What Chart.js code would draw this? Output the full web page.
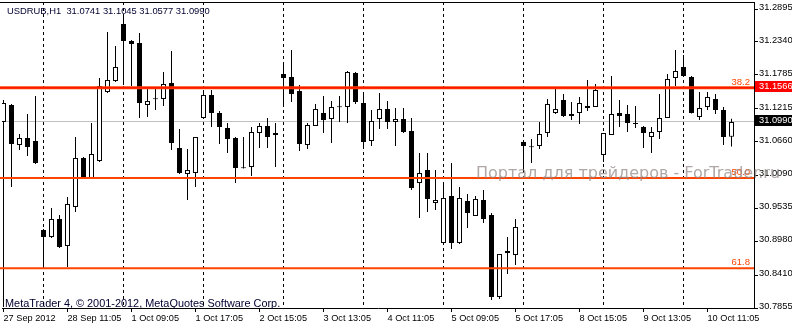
<!DOCTYPE html>
<html>
<head>
<meta charset="utf-8">
<title>USDRUB,H1</title>
<script src="https://cdn.jsdelivr.net/npm/chart.js@4.4.0/dist/chart.umd.min.js"></script>
<style>
  html, body { margin: 0; padding: 0; background: #fff; }
  canvas { display: block; }
</style>
</head>
<body>
<canvas id="chart" width="792" height="325"></canvas>
<script>
// USDRUB H1 candles (oldest first)
const symbol = 'USDRUB,H1';

const opens = [
  31.0991, 31.1277, 31.0603, 31.0721, 31.0670, 30.9170, 30.9052, 30.9356, 30.8900, 30.9558,
  31.0384, 31.0047, 31.0333, 31.1496, 31.1682, 31.2642, 31.2356, 31.2322, 31.1277, 31.1385,
  31.1378, 31.1648, 31.0552, 31.0114, 31.0131, 31.1058, 31.1446, 31.1142, 31.0889, 31.0721,
  31.0225, 31.0232, 31.0805, 31.0923, 31.0771, 31.1800, 31.1749, 31.1513, 31.0603, 31.0923,
  31.1142, 31.1041, 31.1248, 31.1243, 31.1817, 31.1311, 31.0670, 31.1041, 31.1210, 31.0991,
  31.1041, 31.0839, 30.9962, 31.0182, 30.9625, 30.8951, 30.9743, 30.8951, 30.9659, 30.9406,
  30.9676, 30.9423, 30.8041, 30.8782, 30.8749, 31.0653, 31.0573, 31.0586, 31.0805, 31.1142,
  31.1361, 31.1092, 31.1142, 31.1260, 31.1243, 31.0434, 31.0771, 31.1142, 31.1125, 31.0960,
  31.0906, 31.0738, 31.0822, 31.1058, 31.1732, 31.1918, 31.1749, 31.1075, 31.1243, 31.1378,
  31.1193, 31.0741
];
const highs = [
  31.1361, 31.1294, 31.0788, 31.1125, 31.1429, 30.9187, 30.9541, 30.9423, 30.9726, 31.0738,
  31.0401, 31.0974, 31.1732, 31.2508, 31.2272, 31.2760, 31.2373, 31.2491, 31.1547, 31.1547,
  31.1833, 31.2187, 31.0873, 31.0536, 31.0738, 31.1530, 31.1530, 31.1176, 31.0974, 31.0738,
  31.0738, 31.0906, 31.0974, 31.1058, 31.0974, 31.2002, 31.2204, 31.1614, 31.0974, 31.1294,
  31.1429, 31.1345, 31.1429, 31.1850, 31.1833, 31.1496, 31.1193, 31.1479, 31.1345, 31.1227,
  31.1227, 31.1058, 31.0468, 31.0468, 31.0182, 30.9962, 31.0300, 30.9895, 30.9777, 30.9743,
  30.9844, 30.9457, 30.8766, 30.9052, 30.9356, 31.0670, 31.0704, 31.0991, 31.1378, 31.1547,
  31.1463, 31.1328, 31.1412, 31.1699, 31.1631, 31.0805, 31.1766, 31.1361, 31.1277, 31.1260,
  31.0923, 31.0906, 31.1463, 31.1800, 31.2204, 31.2120, 31.1766, 31.1496, 31.1496, 31.1463,
  31.1243, 31.1045
];
const lows = [
  30.7872, 30.9895, 31.0519, 31.0418, 31.0283, 30.8546, 30.9035, 30.8867, 30.8546, 30.9474,
  31.0030, 31.0030, 31.0316, 31.1479, 31.1665, 31.1614, 31.1597, 31.1058, 31.1075, 31.1193,
  31.1260, 31.0519, 31.0114, 30.9676, 30.9895, 31.1058, 31.0906, 31.0620, 31.0468, 30.9962,
  31.0205, 31.0080, 31.0552, 31.0552, 31.0232, 31.1243, 31.1328, 31.0502, 31.0536, 31.0923,
  31.0805, 31.0637, 31.0991, 31.0974, 31.1294, 31.0569, 31.0586, 31.0873, 31.0873, 31.0586,
  31.0805, 30.9844, 30.9372, 30.9474, 30.9507, 30.8934, 30.8850, 30.8934, 30.9204, 30.9406,
  30.9288, 30.7990, 30.8007, 30.8429, 30.8580, 31.0182, 31.0300, 31.0536, 31.0738, 31.1125,
  31.1075, 31.1024, 31.0957, 31.1176, 31.1243, 31.0316, 31.0771, 31.0906, 31.0822, 31.0889,
  31.0552, 31.0468, 31.0704, 31.1058, 31.1597, 31.1749, 31.1135, 31.1024, 31.1193, 31.1125,
  31.0603, 31.0577
];
const closes = [
  31.1311, 31.0620, 31.0721, 31.0569, 31.0300, 30.9052, 30.9356, 30.8884, 30.9608, 31.0384,
  31.0030, 31.0451, 31.1597, 31.1699, 31.1918, 31.2356, 31.2305, 31.1311, 31.1345, 31.1375,
  31.1631, 31.0637, 31.0131, 31.0182, 31.0738, 31.1446, 31.1142, 31.0906, 31.0704, 31.0215,
  31.0210, 31.0822, 31.0923, 31.0738, 31.0805, 31.1732, 31.1463, 31.0620, 31.0940, 31.1210,
  31.1024, 31.1243, 31.1240, 31.1833, 31.1328, 31.0653, 31.1008, 31.1210, 31.0991, 31.1041,
  31.0822, 30.9878, 31.0131, 30.9693, 30.9676, 30.9710, 30.8951, 30.9710, 30.9457, 30.9693,
  30.9356, 30.8041, 30.8766, 30.8816, 30.9221, 31.0586, 31.0565, 31.0788, 31.1294, 31.1210,
  31.1092, 31.1125, 31.1311, 31.1227, 31.1530, 31.0805, 31.1125, 31.1092, 31.0974, 31.0955,
  31.0805, 31.0822, 31.1058, 31.1715, 31.1850, 31.1766, 31.1142, 31.1227, 31.1412, 31.1193,
  31.0738, 31.0990
];

// time axis: labelled bars and their labels
const timeTickIdx = [0, 8, 16, 24, 32, 40, 48, 56, 64, 72, 80, 88];
const timeLabels = ['27 Sep 2012', '28 Sep 11:05', '1 Oct 09:05', '1 Oct 17:05', '2 Oct 15:05',
  '3 Oct 13:05', '4 Oct 11:05', '5 Oct 09:05', '5 Oct 17:05', '8 Oct 15:05', '9 Oct 13:05', '10 Oct 11:05'];
// dotted vertical grid (every 10 bars)
const gridIdx = [5, 15, 25, 35, 45, 55, 65, 75, 85];

// price axis
const priceTicks = [31.2895, 31.2340, 31.1785, 31.1215, 31.0660, 31.0090, 30.9535, 30.8980, 30.8410, 30.7855];
const priceMin = 30.7855;
const priceMax = 31.3013;

// fibonacci levels and their prices
const fibLevels = ['38.2', '50.0', '61.8'];
const fibPrices = [31.1566, 31.0046, 30.8526];
const linePrice = 31.1566;   // red horizontal line
const bidPrice = 31.0990;

const FONT = 'Liberation Sans, Arial, sans-serif';

const overlay = {
  id: 'overlay',
  beforeDatasetsDraw(chart) {
    const {ctx, chartArea: a, scales: {x, y}} = chart;
    ctx.save();
    // period separators
    ctx.strokeStyle = '#000';
    ctx.lineWidth = 1;
    ctx.setLineDash([3, 3]);
    gridIdx.forEach(i => {
      const px = Math.floor(x.getPixelForValue(i)) + 0.5;
      ctx.beginPath();
      ctx.moveTo(px, a.top);
      ctx.lineTo(px, a.bottom);
      ctx.stroke();
    });
    ctx.setLineDash([]);
    // bid line
    const by = Math.floor(y.getPixelForValue(bidPrice)) - 0.5;
    ctx.strokeStyle = '#c0c0c0';
    ctx.beginPath();
    ctx.moveTo(a.left, by);
    ctx.lineTo(a.right, by);
    ctx.stroke();
    // top frame
    ctx.strokeStyle = '#000';
    ctx.beginPath();
    ctx.moveTo(0, a.top + 0.5);
    ctx.lineTo(a.right, a.top + 0.5);
    ctx.stroke();
    ctx.restore();
  },
  afterDatasetsDraw(chart) {
    const {ctx, chartArea: a, scales: {y}} = chart;
    ctx.save();
    fibPrices.forEach((p, i) => {
      const py = y.getPixelForValue(p);
      ctx.strokeStyle = '#ff4500';
      ctx.lineWidth = i === 0 ? 3 : 2;
      ctx.beginPath();
      ctx.moveTo(0, py);
      ctx.lineTo(a.right, py);
      ctx.stroke();
      ctx.fillStyle = '#ff4500';
      ctx.font = '9.5px ' + FONT;
      ctx.textAlign = 'right';
      ctx.textBaseline = 'alphabetic';
      ctx.fillText(fibLevels[i], a.right - 4, py - 3);
    });
    const ly = y.getPixelForValue(linePrice);
    ctx.strokeStyle = '#ff0000';
    ctx.lineWidth = 1;
    ctx.beginPath();
    ctx.moveTo(0, ly);
    ctx.lineTo(a.right, ly);
    ctx.stroke();
    ctx.restore();
  },
  afterDraw(chart) {
    const {ctx, chartArea: a, scales: {y}} = chart;
    ctx.save();
    // price boxes on the axis
    [[linePrice, '#ff0000'], [bidPrice, '#000000']].forEach(([p, col]) => {
      const py = y.getPixelForValue(p);
      ctx.fillStyle = col;
      ctx.fillRect(a.right + 1, Math.round(py) - 7, chart.width - a.right - 1, 11);
      ctx.fillStyle = '#fff';
      ctx.font = '9.3px ' + FONT;
      ctx.textAlign = 'left';
      ctx.textBaseline = 'middle';
      ctx.fillText(p.toFixed(4), a.right + 5, py - 1.5);
    });
    // header
    const n = closes.length - 1;
    ctx.fillStyle = '#000030';
    ctx.font = '9.4px ' + FONT;
    ctx.textAlign = 'left';
    ctx.textBaseline = 'alphabetic';
    ctx.fillText(symbol + '  ' + [opens[n], highs[n], lows[n], closes[n]].map(v => v.toFixed(4)).join(' '), 7, 13.5);
    ctx.font = '10.9px ' + FONT;
    ctx.fillText('MetaTrader 4, \u00a9 2001-2012, MetaQuotes Software Corp.', 5, 306.5);
    // watermark
    ctx.fillStyle = 'rgba(150, 138, 138, 0.75)';
    ctx.font = '16px DejaVu Sans, sans-serif';
    ctx.fillText('Портал для трейдеров - ForTrader.ru', 476, 178);
    ctx.restore();
  }
};

const bodies = opens.map((o, i) => ({x: i, y: [Math.min(o, closes[i]), Math.max(o, closes[i])]}));
const wicks = lows.map((l, i) => ({x: i, y: [l, highs[i]]}));

new Chart(document.getElementById('chart'), {
  type: 'bar',
  data: {
    datasets: [
      {
        label: 'body',
        data: bodies,
        order: 0,
        grouped: false,
        barThickness: 5,
        minBarLength: 1,
        inflateAmount: 0,
        borderWidth: 1,
        borderSkipped: false,
        borderColor: '#000',
        backgroundColor: ctx => closes[ctx.dataIndex] >= opens[ctx.dataIndex] ? '#fff' : '#000'
      },
      {
        label: 'wick',
        data: wicks,
        order: 1,
        grouped: false,
        barThickness: 1,
        inflateAmount: 0,
        borderWidth: 0,
        backgroundColor: '#000'
      }
    ]
  },
  options: {
    responsive: false,
    animation: false,
    devicePixelRatio: 1,
    layout: { padding: { top: 2, left: 2, right: 0, bottom: 0 } },
    plugins: { legend: { display: false }, tooltip: { enabled: false } },
    scales: {
      x: {
        type: 'linear',
        offset: false,
        min: -0.1875,
        max: 93.8125,
        afterBuildTicks: s => { s.ticks = timeTickIdx.map(v => ({value: v})); },
        afterFit: s => { s.height = 17; s.paddingLeft = 0; s.paddingRight = 0; },
        grid: { offset: false, drawOnChartArea: false, drawTicks: true, tickLength: 4, color: '#000' },
        border: { color: '#000', width: 1 },
        ticks: {
          autoSkip: false,
          maxRotation: 0,
          align: 'start',
          padding: 1,
          color: '#000',
          font: { family: FONT, size: 9.2 },
          callback: v => timeLabels[timeTickIdx.indexOf(v)]
        }
      },
      y: {
        position: 'right',
        min: priceMin,
        max: priceMax,
        afterBuildTicks: s => { s.ticks = priceTicks.map(v => ({value: v})); },
        afterFit: s => { s.width = 38; s.paddingTop = 0; s.paddingBottom = 0; },
        grid: { drawOnChartArea: false, drawTicks: true, tickLength: 4, color: '#000' },
        border: { color: '#000', width: 1 },
        ticks: {
          padding: 1,
          labelOffset: -1.5,
          color: '#000',
          font: { family: FONT, size: 9.3 },
          callback: v => v.toFixed(4)
        }
      }
    }
  },
  plugins: [overlay]
});
</script>
</body>
</html>
